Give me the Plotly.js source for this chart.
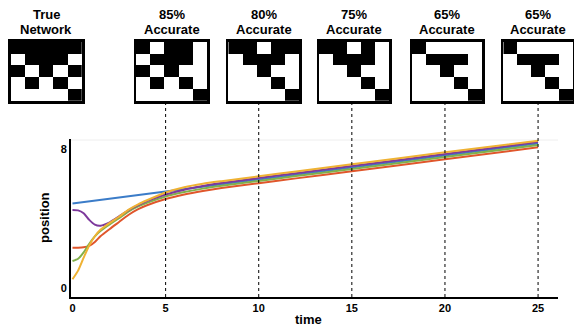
<!DOCTYPE html>
<html><head><meta charset="utf-8">
<script src="https://cdn.plot.ly/plotly-3.0.1.min.js"></script>
<style>html,body{margin:0;padding:0;background:#fff}#chart{width:574px;height:328px}</style>
</head><body><div id="chart"></div>
<script>
// ---- data ----
const time = [0,0.3,0.6,0.9,1.2,1.5,2,2.5,3,3.5,4,5,6,7,8,10,12,15,20,25];
const yellowVals = [0.50,1.00,1.75,2.45,2.98,3.35,3.75,4.10,4.50,4.80,5.05,5.50,5.80,6.00,6.15,6.43,6.71,7.12,7.81,8.48];
const purpleVals = [4.49,4.47,4.30,3.92,3.65,3.59,3.78,4.12,4.47,4.75,5.00,5.38,5.66,5.87,6.04,6.33,6.61,7.02,7.71,8.40];
const greenVals  = [1.55,1.68,2.05,2.55,2.97,3.28,3.66,4.02,4.40,4.68,4.90,5.27,5.52,5.72,5.88,6.16,6.44,6.85,7.54,8.23];
const redVals    = [2.32,2.32,2.34,2.42,2.65,2.98,3.40,3.80,4.20,4.52,4.76,5.12,5.38,5.58,5.75,6.03,6.31,6.72,7.41,8.10];
const blueTime = [0,5,10,15,20,25];
const blueVals = [4.87,5.56,6.25,6.94,7.63,8.32];

const xTicks = [0,5,10,15,20,25];
const yTicks = [0,8];
const snapshotTimes = [5,10,15,20,25];

const labelTop = ["True","85%","80%","75%","65%","65%"];
const labelBottom = ["Network","Accurate","Accurate","Accurate","Accurate","Accurate"];
const matTrue = [[1,1,1,1,1],[0,1,1,1,0],[1,0,1,0,1],[0,1,0,1,0],[0,0,0,0,1]];
const mat85   = [[1,0,1,1,0],[0,1,1,1,0],[1,0,1,0,0],[0,1,0,1,0],[0,0,0,0,1]];
const mat80   = [[1,1,0,1,1],[0,1,1,1,0],[0,0,1,0,0],[0,0,0,1,0],[0,0,0,0,1]];
const mat75   = [[1,1,0,1,0],[0,1,1,1,0],[0,0,1,0,0],[0,0,0,1,0],[0,0,0,0,1]];
const mat65a  = [[1,0,0,0,0],[0,1,1,1,0],[0,0,1,0,0],[0,0,0,1,0],[0,0,0,0,1]];
const mat65b  = [[1,0,0,0,0],[0,1,1,1,0],[0,0,1,0,0],[0,0,0,1,0],[0,0,0,0,1]];
const matrices = [matTrue, mat85, mat80, mat75, mat65a, mat65b];

// ---- layout geometry ----
const W = 574, H = 328;
const M = {l:5, r:1, t:10, b:31};
const pw = W - M.l - M.r, ph = H - M.t - M.b;
const px = v => (v - M.l) / pw;
const py = v => (H - M.b - v) / ph;

const matX = [[10.7,82],[136,207],[228.3,299],[319,389],[412,482],[503.3,573]];
const matY = [41.7,101];

const FONT = "Liberation Sans, Arial, Helvetica, sans-serif";

const lineSpec = [
  {x: blueTime, y: blueVals, c: '#3b7cc8'},
  {x: time, y: redVals, c: '#e0562b'},
  {x: time, y: greenVals, c: '#82b04a'},
  {x: time, y: purpleVals, c: '#7d399c'},
  {x: time, y: yellowVals, c: '#efb233'}
];
const data = lineSpec.map(s => ({
  type: 'scatter', mode: 'lines', x: s.x, y: s.y,
  line: {color: s.c, width: 2, shape: 'spline', smoothing: 0.6},
  xaxis: 'x', yaxis: 'y', hoverinfo: 'skip', showlegend: false
}));

const layout = {
  width: W, height: H, margin: M, paper_bgcolor: '#fff', plot_bgcolor: '#fff',
  showlegend: false,
  font: {family: FONT, color: '#000'},
  xaxis: {
    domain: [px(71), px(558)], range: [-0.08, 26.07], anchor: 'y',
    showline: true, linewidth: 2, linecolor: '#000', showgrid: false, zeroline: false,
    tickvals: xTicks, ticks: '', tickfont: {family: FONT, size: 11, weight: 'bold', color: '#000'}
  },
  yaxis: {
    domain: [0, py(139)], range: [-0.518, 8.576], anchor: 'x',
    showline: true, linewidth: 2, linecolor: '#000', showgrid: false, zeroline: false,
    tickvals: yTicks, ticks: '', tickfont: {family: FONT, size: 11, weight: 'bold', color: '#000'}
  },
  shapes: [],
  annotations: [
    {text: '<b>time</b>', xref: 'paper', yref: 'paper', x: px(308), y: py(319), showarrow: false,
     xanchor: 'center', yanchor: 'middle', font: {size: 13, family: FONT}},
    {text: '<b>position</b>', xref: 'paper', yref: 'paper', x: px(44), y: py(218), showarrow: false,
     textangle: -90, xanchor: 'center', yanchor: 'middle', font: {size: 13, family: FONT}}
  ]
};

// faint top guide line
layout.shapes.push({type: 'line', xref: 'paper', yref: 'paper', x0: px(71), x1: px(558),
  y0: py(140), y1: py(140), line: {color: '#eeeeee', width: 1}, layer: 'below'});

snapshotTimes.forEach(t => {
  layout.shapes.push({type: 'line', xref: 'x', yref: 'paper', x0: t, x1: t, y0: 0, y1: py(matY[1]),
    line: {color: '#000', width: 1, dash: 'dot'}, layer: 'above'});
});

matrices.forEach((m, i) => {
  const n = i + 2;
  const xd = [px(matX[i][0]), px(matX[i][1])];
  const yd = [py(matY[1]), py(matY[0])];
  data.push({type: 'heatmap', z: m, xaxis: 'x' + n, yaxis: 'y' + n, zmin: 0, zmax: 1,
    colorscale: [[0, '#ffffff'], [1, '#000000']], showscale: false, hoverinfo: 'skip'});
  const ax = {showline: true, mirror: true, linewidth: 2.5, linecolor: '#000', showgrid: false,
    zeroline: false, showticklabels: false, ticks: ''};
  layout['xaxis' + n] = Object.assign({}, ax, {domain: xd, range: [-0.5, 4.5], anchor: 'y' + n});
  layout['yaxis' + n] = Object.assign({}, ax, {domain: yd, range: [4.5, -0.5], anchor: 'x' + n});
  const cx = (xd[0] + xd[1]) / 2;
  layout.annotations.push({text: '<b>' + labelTop[i] + '</b>', xref: 'paper', yref: 'paper',
    x: cx, y: py(15), showarrow: false, xanchor: 'center', yanchor: 'middle', font: {size: 13, family: FONT}});
  layout.annotations.push({text: '<b>' + labelBottom[i] + '</b>', xref: 'paper', yref: 'paper',
    x: cx, y: py(30), showarrow: false, xanchor: 'center', yanchor: 'middle', font: {size: 13, family: FONT}});
});

Plotly.newPlot('chart', data, layout, {staticPlot: true, displayModeBar: false});
</script></body></html>
